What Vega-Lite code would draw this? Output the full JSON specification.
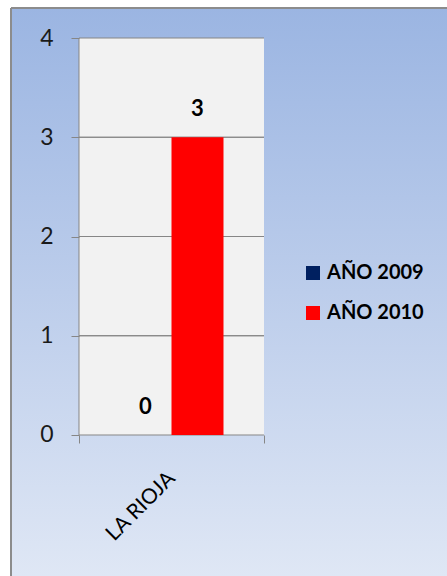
{
  "$schema": "https://vega.github.io/schema/vega-lite/v6.json",
  "width": 436,
  "height": 568,
  "autosize": {"type": "none"},
  "padding": {"left": 11, "top": 8, "right": 0, "bottom": 0},
  "background": "#ffffff",
  "config": {"view": {"stroke": null}},
  "layer": [
    {
      "data": {"values": [{"frame": "outer"}]},
      "mark": {
        "type": "rect",
        "fill": {"gradient": "linear", "x1": 0, "y1": 0, "x2": 0, "y2": 1,
          "stops": [{"offset": 0, "color": "#9bb5e2"}, {"offset": 0.5, "color": "#bccdeb"}, {"offset": 1, "color": "#dfe7f5"}]},
        "stroke": "#8c8c8c",
        "strokeWidth": 2,
        "strokeDash": [436, 1004, 568, 0]
      },
      "encoding": {}
    },
    {
      "data": {"values": [{"region": "LA RIOJA", "lo": 0, "hi": 4}]},
      "mark": {"type": "rect", "fill": "#f2f2f2", "stroke": "#868686", "strokeWidth": 1, "strokeDash": [185, 397, 582, 0]},
      "encoding": {
        "x": {
          "field": "region", "type": "nominal",
          "scale": {"paddingOuter": 0.6784, "paddingInner": 0, "align": 0.2709},
          "axis": {
            "title": null, "orient": "bottom", "offset": -141, "domain": false, "zindex": 1,
            "tickBand": "extent", "tickSize": 8, "tickColor": "#868686",
            "labelAngle": -45, "labelAlign": "right", "labelBaseline": "middle", "labelPadding": 32,
            "labelFont": "Lato", "labelFontSize": 21, "labelColor": "#000000"
          }
        },
        "y": {
          "field": "lo", "type": "quantitative",
          "scale": {"domain": [-1.4207, 4.3023], "nice": false, "zero": false},
          "axis": {
            "title": null, "orient": "left", "offset": -68, "domain": false, "grid": false, "zindex": 1,
            "values": [0, 1, 2, 3, 4], "format": "d", "tickSize": 8, "tickColor": "#868686",
            "labelPadding": 18, "labelFont": "Lato", "labelFontSize": 23, "labelColor": "#1a1a1a"
          }
        },
        "y2": {"field": "hi"}
      }
    },
    {
      "data": {"values": [{"region": "LA RIOJA", "level": 1}, {"region": "LA RIOJA", "level": 2}, {"region": "LA RIOJA", "level": 3}]},
      "mark": {"type": "rect", "fill": null, "stroke": "#868686", "strokeWidth": 1},
      "encoding": {
        "x": {"field": "region", "type": "nominal"},
        "y": {"field": "level", "type": "quantitative"},
        "y2": {"field": "level"}
      }
    },
    {
      "data": {"values": [
        {"region": "LA RIOJA", "year": "AÑO 2009", "value": 0},
        {"region": "LA RIOJA", "year": "AÑO 2010", "value": 3}
      ]},
      "layer": [
        {
          "mark": {"type": "bar"},
          "encoding": {
            "x": {"field": "region", "type": "nominal"},
            "xOffset": {"field": "year", "type": "nominal", "scale": {"paddingInner": 0, "paddingOuter": 0.7788}},
            "y": {"field": "value", "type": "quantitative"},
            "y2": {"datum": 0},
            "color": {
              "field": "year", "type": "nominal",
              "scale": {"domain": ["AÑO 2009", "AÑO 2010"], "range": ["#002060", "#ff0000"]},
              "legend": {
                "orient": "none", "legendX": 292, "legendY": 255, "title": null,
                "symbolType": "square", "symbolSize": 196, "symbolStrokeWidth": 0,
                "labelFont": "Lato", "labelFontSize": 20, "labelFontWeight": "bold", "labelColor": "#000000",
                "labelOffset": 4, "rowPadding": 20
              }
            }
          }
        },
        {
          "mark": {"type": "text", "baseline": "bottom", "dy": -16, "font": "Lato", "fontWeight": "bold", "fontSize": 22, "color": "#000000"},
          "encoding": {
            "x": {"field": "region", "type": "nominal"},
            "xOffset": {"field": "year", "type": "nominal"},
            "y": {"field": "value", "type": "quantitative"},
            "text": {"field": "value", "type": "quantitative"}
          }
        }
      ]
    }
  ]
}
